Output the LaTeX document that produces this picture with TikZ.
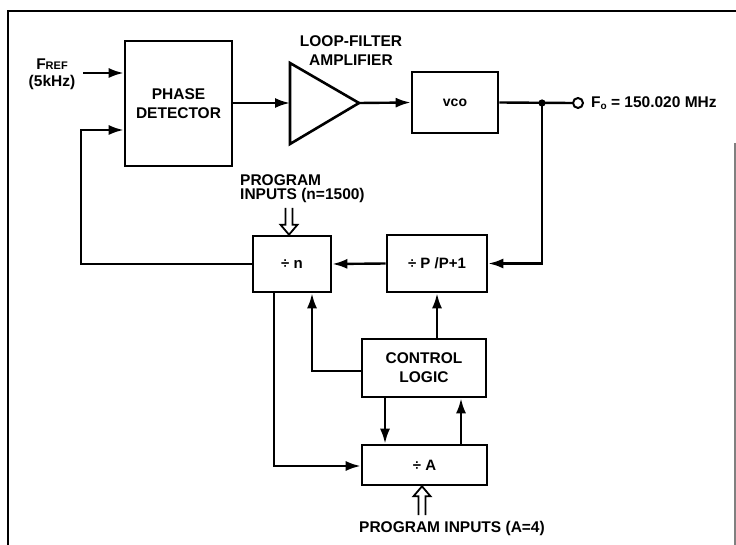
\documentclass[tikz,border=0pt]{standalone}
\usepackage{fontspec}
\setmainfont{Liberation Sans}
\usetikzlibrary{arrows.meta}
\begin{document}
\begin{tikzpicture}[x=1pt,y=-1pt, line width=2.4pt,
  txt/.style={inner sep=0pt, font=\bfseries\fontsize{15.5}{19}\selectfont, align=center},
  blk/.style={draw, line width=2.6pt, inner sep=0pt, font=\bfseries\fontsize{15.5}{19}\selectfont, align=center},
  arr/.style={-{Latex[length=15pt,width=10pt]}},
  hollow/.style={line width=1.8pt, line join=miter}
]
\useasboundingbox (0,0) rectangle (736,545);
% frame
\draw[line width=2.6pt] (8,545) -- (8,11) -- (736,11);
\draw[gray, line width=1.4pt] (735,143) -- (735,545);

% blocks
\node[blk, minimum width=107pt, minimum height=125pt] (pd) at (178.5,103.5) {PHASE\\DETECTOR};
\draw[line width=2.6pt, line join=miter] (290,63) -- (359,103) -- (290,144) -- cycle;
\coordinate (ampin) at (290,103);
\coordinate (ampout) at (359,103);
\node[txt] (amplbl) at (351,51) {LOOP-FILTER\\AMPLIFIER};
\node[blk, minimum width=86pt, minimum height=61pt, font=\bfseries\fontsize{14}{16}\selectfont] (vco) at (455,102.5) {vco};
\node[blk, minimum width=78pt, minimum height=56pt, font=\bfseries\fontsize{15}{17}\selectfont] (divn) at (292,264) {÷ n};
\node[blk, minimum width=100pt, minimum height=57pt, font=\bfseries\fontsize{15}{17}\selectfont] (divp) at (437,263.5) {÷ P /P+1};
\node[blk, minimum width=124pt, minimum height=58pt] (cl) at (424,368) {CONTROL\\LOGIC};
\node[blk, minimum width=125pt, minimum height=40pt, font=\bfseries\fontsize{15}{17}\selectfont] (diva) at (424.5,465) {÷ A};

% labels
\node[txt, align=center] (fref) at (52,74) {F{\fontsize{11}{11}\selectfont REF}\\[-2pt](5kHz)};
\node[txt, align=left, anchor=west, font=\bfseries\fontsize{15.5}{14}\selectfont] (pnlbl) at (239,189) {PROGRAM\\INPUTS (n=1500)};
\node[txt, anchor=center] (palbl) at (452,528) {PROGRAM INPUTS (A=4)};
\node[circle, draw, minimum size=10pt, inner sep=0pt, line width=2pt] (out) at (578,103) {};
\node[txt, anchor=west] (outlbl) at (590,103) {F\raisebox{-2pt}{\fontsize{10}{10}\selectfont o} = 150.020 MHz};

% coordinates
\coordinate (fin) at (83,73);
\coordinate (fb) at (81,130);
\coordinate (j) at (542,103);
\coordinate (c1) at (312,371);
\coordinate (c2) at (274,466);
\coordinate (cd) at (385,0);
\coordinate (cu) at (461,0);
\coordinate (pn) at (289,208);
\coordinate (pa) at (422,515);

% connectors
\draw[arr] (fin) -- (pd.west |- fin);
\draw[arr] (divn.west) -| (fb) -- (pd.west |- fb);
\draw[arr] (pd.east |- ampin) -- (ampin);
\draw[arr] (ampout) -- (vco.west);
\draw (vco.east) -- (out.west);
\fill (j) circle (3.6pt);
\draw[arr] (j) |- (divp.east);
\draw[arr] (divp.west) -- (divn.east);
\draw[arr] (cl.north -| divp.south) -- (divp.south);
\draw[arr] (cl.west |- c1) -- (c1) -- (c1 |- divn.south);
\draw[arr] (c2 |- divn.south) -- (c2) -- (diva.west |- c2);
\draw[arr] (cl.south -| cd) -- (diva.north -| cd);
\draw[arr] (diva.north -| cu) -- (cl.south -| cu);
% hollow program-input arrows
\draw[hollow] ([xshift=-3.5pt]pn) -- ([xshift=-3.5pt,yshift=10pt]divn.north -| pn)
  -- ([xshift=-8.5pt,yshift=10pt]divn.north -| pn) -- (divn.north -| pn)
  -- ([xshift=8.5pt,yshift=10pt]divn.north -| pn) -- ([xshift=3.5pt,yshift=10pt]divn.north -| pn)
  -- ([xshift=3.5pt]pn);
\draw[hollow] ([xshift=-3.5pt]pa) -- ([xshift=-3.5pt,yshift=-10pt]diva.south -| pa)
  -- ([xshift=-8.5pt,yshift=-10pt]diva.south -| pa) -- (diva.south -| pa)
  -- ([xshift=8.5pt,yshift=-10pt]diva.south -| pa) -- ([xshift=3.5pt,yshift=-10pt]diva.south -| pa)
  -- ([xshift=3.5pt]pa);
\end{tikzpicture}
\end{document}
